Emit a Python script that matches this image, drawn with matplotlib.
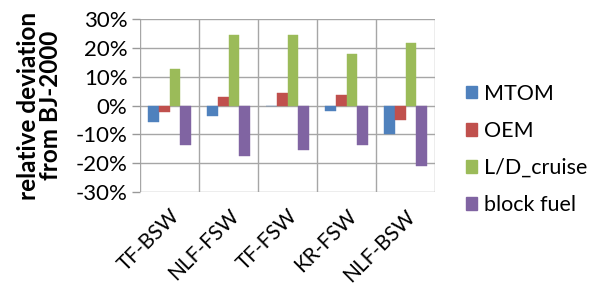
import matplotlib
matplotlib.use("Agg")
import matplotlib.pyplot as plt
import numpy as np
from matplotlib.patches import Patch

categories = ["TF-BSW", "NLF-FSW", "TF-FSW", "KR-FSW", "NLF-BSW"]
series_names = ["MTOM", "OEM", "L/D_cruise", "block fuel"]
mtom = [-5.7, -3.6, -0.3, -1.8, -10.0]
oem = [-2.3, 3.0, 4.3, 3.8, -5.2]
ld_cruise = [12.6, 24.6, 24.4, 18.0, 21.6]
block_fuel = [-13.8, -17.6, -15.5, -13.8, -21.0]
colors = ["#4F81BD", "#C0504D", "#9BBB59", "#8064A2"]
yticks = [-30, -20, -10, 0, 10, 20, 30]

plt.rcParams["font.family"] = ["Lato", "DejaVu Sans"]

fig = plt.figure(figsize=(5.92, 2.86), dpi=100)
ax = fig.add_axes([140/592, 1-192/286, 295/592, 173/286])

x = np.arange(len(categories))
w = 0.18
data = [mtom, oem, ld_cruise, block_fuel]
for i, (vals, c, n) in enumerate(zip(data, colors, series_names)):
    ax.bar(x + (i - 1.5) * w, vals, width=w, color=c, label=n, zorder=3,
           edgecolor=c, linewidth=0.3)

ax.set_ylim(-30, 30)
ax.set_xlim(-0.5, len(categories) - 0.5)
ax.set_yticks(yticks)
ax.set_yticklabels([f"{v}%" for v in yticks], fontsize=16)
ax.set_xticks(x)
ax.set_xticklabels(categories, rotation=45, ha="right", va="top",
                   rotation_mode="anchor", fontsize=15)
ax.tick_params(axis="x", length=0, pad=10)
ax.tick_params(axis="y", length=6, width=1, color="#999999", pad=3)

for yv in yticks:
    ax.axhline(yv, color="#a6a6a6", linewidth=1, zorder=1)
for b in np.arange(-0.5, len(categories), 1.0):
    ax.axvline(b, color="#a6a6a6", linewidth=1, zorder=1)
for s in ax.spines.values():
    s.set_visible(False)

ax.set_ylabel("relative deviation\nfrom BJ-2000", fontsize=17.5, fontweight="bold",
              linespacing=0.95)
ax.yaxis.set_label_coords(-0.265, 0.5)

handles = [Patch(facecolor=c, edgecolor=c) for c in colors]
fig.legend(handles, series_names, loc="upper left", bbox_to_anchor=(457/592, 1-75/286),
           frameon=False, fontsize=15.5, handlelength=0.55, handleheight=0.55,
           handletextpad=0.3, labelspacing=0.8, borderaxespad=0)

fig.savefig("out.png", dpi=100)
